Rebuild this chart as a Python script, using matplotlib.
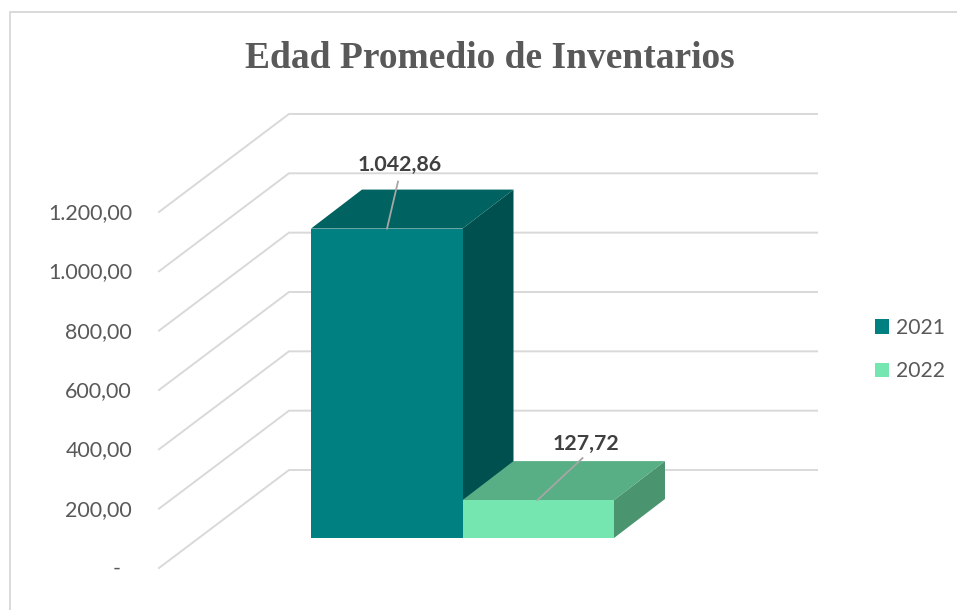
import matplotlib
matplotlib.use("Agg")
import matplotlib.pyplot as plt
from matplotlib.patches import Patch, Polygon

# data
years = ["2021", "2022"]
values = [1042.86, 127.72]
value_labels = ["1.042,86", "127,72"]
ticks = [0, 200, 400, 600, 800, 1000, 1200]
tick_labels = ["-", "200,00", "400,00", "600,00", "800,00", "1.000,00", "1.200,00"]

# colours per bar: front, top, side
front_colors = ["#008080", "#75E6B0"]
top_colors = ["#006361", "#58AE85"]
side_colors = ["#00504F", "#4A9570"]
grid_color = "#D9D9D9"
text_color = "#595959"
label_color = "#404040"

W, H = 957, 610
PX_PER_UNIT = 0.2967
PX_PER_CAT = 151.5
X0 = 311.0    # left edge of first bar, px
Y0 = 538.0    # bar base, px


def to_x(px):
    return (px - X0) / PX_PER_CAT


def dy(px):
    return px / PX_PER_UNIT


fig = plt.figure(figsize=(W / 100, H / 100), dpi=100)
ax = fig.add_axes([0, 0, 1, 1])
ax.set_xlim(to_x(0), to_x(W))
ax.set_ylim((Y0 - H) / PX_PER_UNIT, Y0 / PX_PER_UNIT)
ax.axis("off")

# chart frame
ax.plot([to_x(W), to_x(9.5), to_x(9.5)],
        [dy(Y0 - 12), dy(Y0 - 12), dy(Y0 - H)], color=grid_color, lw=1.4)

# floor offsets, front and back of the depth
floor_front = dy(Y0 - 568)
floor_back = dy(Y0 - 470)
left_front = to_x(159)
left_back = to_x(289)
right_back = to_x(817)

for t, lab in zip(ticks, tick_labels):
    ax.plot([left_front, left_back, right_back],
            [t + floor_front, t + floor_back, t + floor_back],
            color=grid_color, lw=1.4, solid_joinstyle="miter")
    # the dash for zero sits further in, as in an accounting number format
    lab_right = 121 if t == 0 else 132
    ax.text(to_x(lab_right), t + floor_front + dy(-1), lab, ha="right", va="center",
            fontsize=15.4, color=text_color, family="Lato")

# bars
depth_x = 51 / PX_PER_CAT
depth_y = dy(39)
for i, v in enumerate(values):
    ax.add_patch(Polygon([(i + 1, 0), (i + 1 + depth_x, depth_y),
                          (i + 1 + depth_x, v + depth_y), (i + 1, v)],
                         facecolor=side_colors[i], edgecolor="none", zorder=3))
    ax.add_patch(Polygon([(i, v), (i + depth_x, v + depth_y),
                          (i + 1 + depth_x, v + depth_y), (i + 1, v)],
                         facecolor=top_colors[i], edgecolor="none", zorder=3))
    ax.bar(i, v, width=1, align="edge", color=front_colors[i], zorder=4)

# value labels with leader lines
leader_dx = [11 / PX_PER_CAT, 45 / PX_PER_CAT]
leader_dy = [dy(47), dy(42)]
label_x = [400, 586]
label_gap = [dy(64), dy(56)]
for i, v in enumerate(values):
    start = i + (76 if i == 0 else 75) / PX_PER_CAT
    ax.plot([start, start + leader_dx[i]], [v, v + leader_dy[i]],
            color="#A6A6A6", lw=1.3, zorder=5)
    ax.text(to_x(label_x[i]), v + label_gap[i], value_labels[i], ha="center",
            va="center", fontsize=15.4, fontweight="bold", color=label_color,
            family="Lato")

ax.text(to_x(490), dy(Y0 - 58), "Edad Promedio de Inventarios", ha="center",
        va="center", fontsize=27, fontweight="bold", color=text_color,
        family="Liberation Serif")

handles = [Patch(facecolor=c, label=y) for c, y in zip(front_colors, years)]
leg = ax.legend(handles=handles, loc="center left",
                bbox_to_anchor=(875 / W, 1 - 349.5 / H), frameon=False,
                prop={"family": "Lato", "size": 15.2}, labelcolor=text_color,
                handlelength=0.68, handleheight=0.68, handletextpad=0.32,
                labelspacing=1.12, borderpad=0, borderaxespad=0)

fig.savefig("out.png", dpi=100)
